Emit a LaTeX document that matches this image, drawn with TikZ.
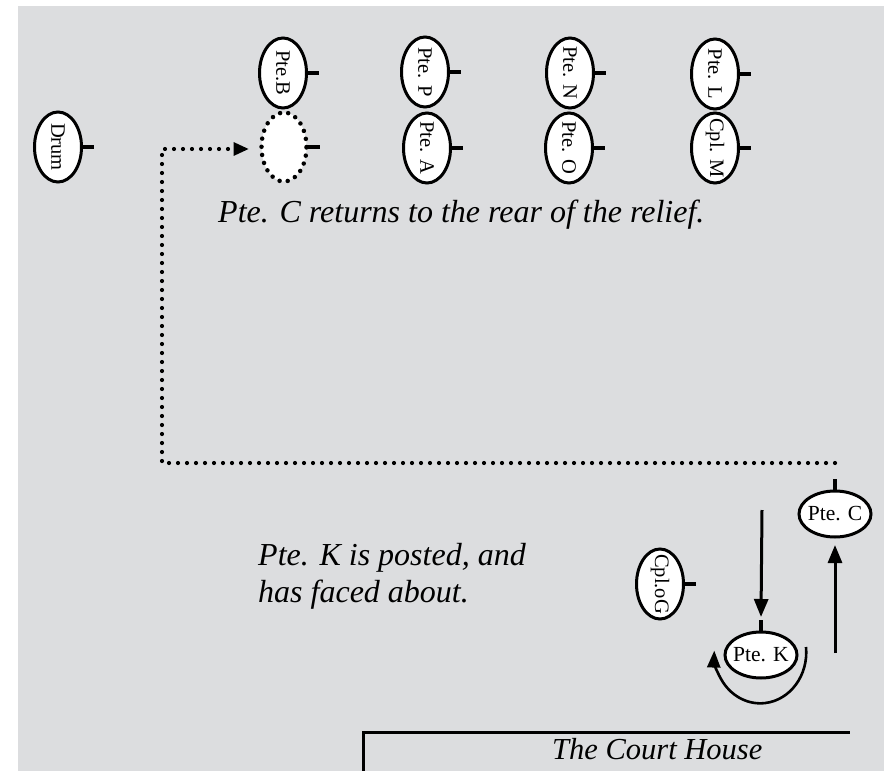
\documentclass[tikz,border=0pt]{standalone}
\usepackage{fontspec}
\setmainfont{Liberation Serif}
\usetikzlibrary{shapes.geometric,arrows.meta}
\definecolor{bgray}{RGB}{220,221,223}
\tikzset{
  man/.style={ellipse,draw=black,fill=white,line width=3pt,inner sep=0pt,
    minimum width=47pt,minimum height=70pt,
    label={[font=\fontsize{20.5}{24}\selectfont,inner sep=0pt]center:\rotatebox{-90}{#1}}},
  manh/.style={ellipse,draw=black,fill=white,line width=3pt,inner sep=0pt,
    minimum width=72pt,minimum height=46pt,
    label={[font=\fontsize{21.5}{24}\selectfont,inner sep=0pt]center:#1}},
  ghost/.style={ellipse,draw=black,fill=white,line width=4.5pt,line cap=round,
    dash pattern=on 0pt off 8.2pt,inner sep=0pt,minimum width=45pt,minimum height=69pt},
  tick/.style={line width=4pt},
  dotline/.style={line width=4.2pt,line cap=round,dash pattern=on 0pt off 9pt},
  arr/.style={line width=3pt,-{Triangle[length=18pt,width=14pt]}},
  caption/.style={font=\fontsize{32}{37}\selectfont\itshape,inner sep=0pt,align=left}
}
\begin{document}
\begin{tikzpicture}[x=1pt,y=-1pt]
\useasboundingbox (0,0) rectangle (884,771);
\fill[bgray] (18,6) rectangle (884,771);

% top rows
\node[man=Drum] (drum) at (58,147) {};
\node[man=Pte.B] (b) at (283,73) {};
\node[ghost] (bx) at (284,147) {};
\node[man=Pte. P] (p) at (425,72) {};
\node[man=Pte. A] (a) at (427,148) {};
\node[man=Pte. N] (n) at (570,73) {};
\node[man=Pte. O] (o) at (569,148) {};
\node[man=Pte. L] (l) at (715,74) {};
\node[man=Cpl. M] (m) at (715,148) {};
\node[man=Cpl.oG] (g) at (660,584) {};

\foreach \n in {drum,b,p,a,n,o,l,m,g}
  \draw[tick] (\n.east) -- ++(11,0);
\draw[tick] (bx.east) ++(-1.5,0) -- ++(12.5,0);

% lower nodes
\node[manh=Pte. C] (c) at (835,514) {};
\node[manh=Pte. K] (k) at (761,655) {};
\draw[tick] (c.north) -- ++(0,-11);
\draw[tick] (k.north) -- ++(0,-11);

% dotted route
\coordinate (d0) at (835,463);
\coordinate (d1) at (162,463);
\draw[dotline] (d0) -- (d1) -- (162,149) -- (236,149);
\node[fill=black,draw=none,isosceles triangle,isosceles triangle apex angle=50,
  inner sep=0pt,minimum height=15pt,anchor=apex] (tip) at (249,149) {};

% arrows
\coordinate (ks) at (762,510);
\draw[arr] (ks) -- (k.north |- 0,617);
\coordinate (cs) at (835,653);
\draw[arr] (cs) -- (c.south |- 0,545);
\draw[line width=2.6pt,-{Triangle[length=17pt,width=13pt]}]
  (806,647) arc[start angle=6,end angle=-182,x radius=46,y radius=-51];

% texts
\node[caption,anchor=base west] (t1) at (218,222) {Pte. C returns to the rear of the relief.};
\node[caption,anchor=base west] (t2) at (258,602) {Pte. K is posted, and\\has faced about.};

% court house
\coordinate (h0) at (363,771);
\coordinate (h1) at (363,732);
\coordinate (h2) at (850,732);
\draw[line width=3pt] (h0) -- (h1) -- (h2);
\node[caption,anchor=base west,font=\fontsize{30.5}{36}\selectfont\itshape] (ch) at (552,759) {The Court House};
\end{tikzpicture}
\end{document}
